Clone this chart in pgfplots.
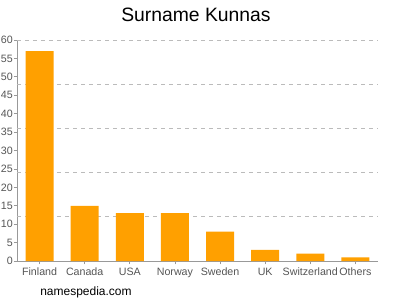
\documentclass[border=0pt]{standalone}
\usepackage{fontspec}
\setmainfont{Liberation Sans}
\usepackage{pgfplots}
\pgfplotsset{compat=1.18}
\definecolor{barc}{HTML}{FFA000}
\definecolor{tickc}{HTML}{555555}
\definecolor{axc}{HTML}{999999}
\definecolor{gridc}{HTML}{BBBBBB}
\begin{document}
\begin{tikzpicture}[x=1pt,y=1pt]
\path[use as bounding box] (-12.75,-29.25) rectangle (287.25,195.75);
\begin{axis}[
  at={(0,0)}, anchor=south west,
  scale only axis, width=270.75pt, height=165.75pt,
  xmin=-0.5, xmax=7.5, ymin=0, ymax=60,
  xtick=data,
  xticklabels={Finland,Canada,USA,Norway,Sweden,UK,Switzerland,Others},
  ytick={0,5,...,60},
  extra y ticks={12,24,36,48,60},
  extra y tick labels={},
  extra y tick style={grid=major, major grid style={gridc, dashed, line width=0.6pt}, major tick length=0pt},
  axis x line*=bottom, axis y line*=left,
  axis line style={axc, line width=0.6pt},
  tick style={axc, line width=0.6pt},
  major tick length=2.5pt,
  tick align=outside,
  ticklabel style={font=\fontsize{8}{9}\selectfont, text=tickc},
  /pgf/number format/assume math mode=true,
  yticklabel style={inner sep=0.5pt},
  xticklabel style={yshift=1pt},
  ybar, bar width=21pt,
  clip=false,
]
\addplot[fill=barc, draw=none] coordinates {(0,57) (1,15) (2,13) (3,13) (4,8) (5,3) (6,2) (7,1)};
\end{axis}
\node[font=\fontsize{14.5}{16}\selectfont, anchor=center] at (134.25,184.5) {Surname Kunnas};
\node[font=\fontsize{9}{10}\selectfont, anchor=west, inner sep=0pt] at (17.25,-23.25) {namespedia.com};
\end{tikzpicture}
\end{document}
